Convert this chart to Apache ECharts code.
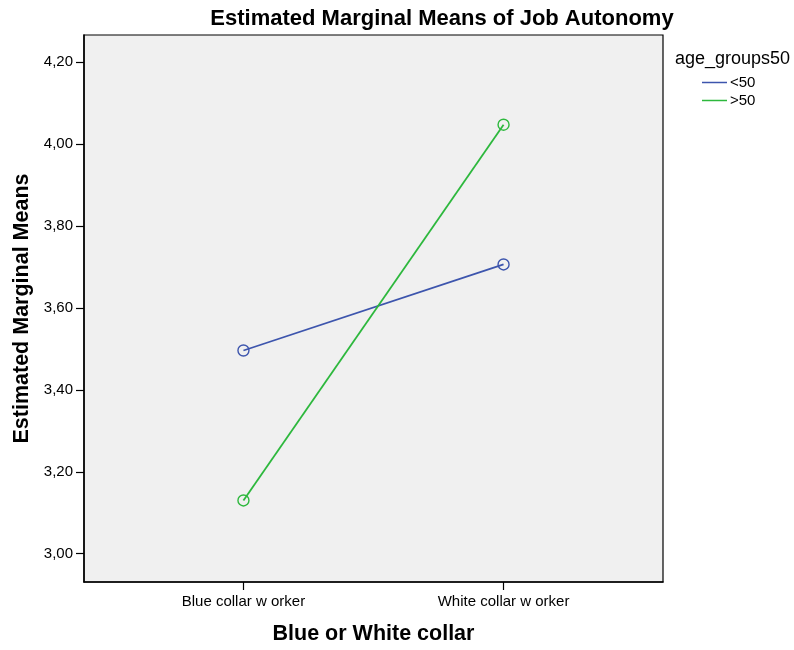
<!DOCTYPE html>
<html>
<head>
<meta charset="utf-8">
<script src="https://cdn.jsdelivr.net/npm/echarts@6/dist/echarts.min.js"></script>
<style>html,body{margin:0;padding:0;background:#fff;}#chart{width:794px;height:650px;}</style>
</head>
<body>
<div id="chart"></div>
<script>
const categories = ['Blue collar w orker', 'White collar w orker'];
const seriesNames = ['<50', '>50'];
const under50 = [3.496, 3.706];
const over50 = [3.130, 4.047];
const yTicks = [3.0, 3.2, 3.4, 3.6, 3.8, 4.0, 4.2];
const colors = ['#3d55ad', '#2db83d'];
const FONT = 'Liberation Sans, Arial, sans-serif';

const chart = echarts.init(document.getElementById('chart'));
function mk(name, vals, color) {
  return {
    name: name, type: 'line',
    data: vals.map((v, i) => [i, v]),
    symbol: 'circle', symbolSize: 11,
    lineStyle: { color: color, width: 1.8 },
    itemStyle: { color: 'rgba(0,0,0,0)', borderColor: color, borderWidth: 1.4 },
    emphasis: { disabled: true }, animation: false
  };
}
chart.setOption({
  animation: false,
  title: [
    { text: 'Estimated Marginal Means of Job Autonomy', left: 437, top: 3, textAlign: 'center',
      textStyle: { fontFamily: FONT, fontSize: 22, fontWeight: 'bold', color: '#000' } },
    { text: 'age_groups50', left: 670, top: 45,
      textStyle: { fontFamily: FONT, fontSize: 18, fontWeight: 'normal', color: '#000' } }
  ],
  legend: {
    orient: 'vertical', left: 697, top: 70, itemGap: 3,
    icon: 'rect', itemWidth: 25, itemHeight: 1.5,
    textStyle: { fontFamily: FONT, fontSize: 15, lineHeight: 15, color: '#000', padding: [0,0,0,-2] },
    data: seriesNames.map((n, i) => ({ name: n, itemStyle: { color: colors[i], borderWidth: 0 } }))
  },
  grid: { left: 84, top: 35, right: 131, bottom: 68, show: true, backgroundColor: '#f0f0f0',
    borderColor: '#000', borderWidth: 1.2, containLabel: false },
  xAxis: {
    type: 'value', min: -0.613, max: 1.613,
    name: 'Blue or White collar', nameLocation: 'middle', nameGap: 41,
    nameTextStyle: { fontFamily: FONT, fontSize: 21.5, fontWeight: 'bold', color: '#000' },
    axisLine: { show: true, onZero: false, lineStyle: { color: '#000', width: 1.5 } },
    axisTick: { show: true, length: 8, lineStyle: { color: '#000', width: 1.2 }, customValues: [0, 1] },
    axisLabel: { customValues: [0, 1], margin: 12, fontFamily: FONT, fontSize: 15, color: '#000',
      formatter: v => categories[Math.round(v)] },
    splitLine: { show: false }
  },
  yAxis: {
    type: 'value', min: 2.931, max: 4.266,
    name: 'Estimated Marginal Means', nameLocation: 'middle', nameGap: 50, nameRotate: 90,
    nameTextStyle: { fontFamily: FONT, fontSize: 21.5, fontWeight: 'bold', color: '#000' },
    axisLine: { show: true, onZero: false, lineStyle: { color: '#000', width: 1.5 } },
    axisTick: { show: true, length: 8, lineStyle: { color: '#000', width: 1.2 }, customValues: yTicks },
    axisLabel: { customValues: yTicks, margin: 11, fontFamily: FONT, fontSize: 15, color: '#000',
      formatter: v => v.toFixed(2).replace('.', ',') },
    splitLine: { show: false }
  },
  series: [mk(seriesNames[0], under50, colors[0]), mk(seriesNames[1], over50, colors[1])]
});
</script>
</body>
</html>
